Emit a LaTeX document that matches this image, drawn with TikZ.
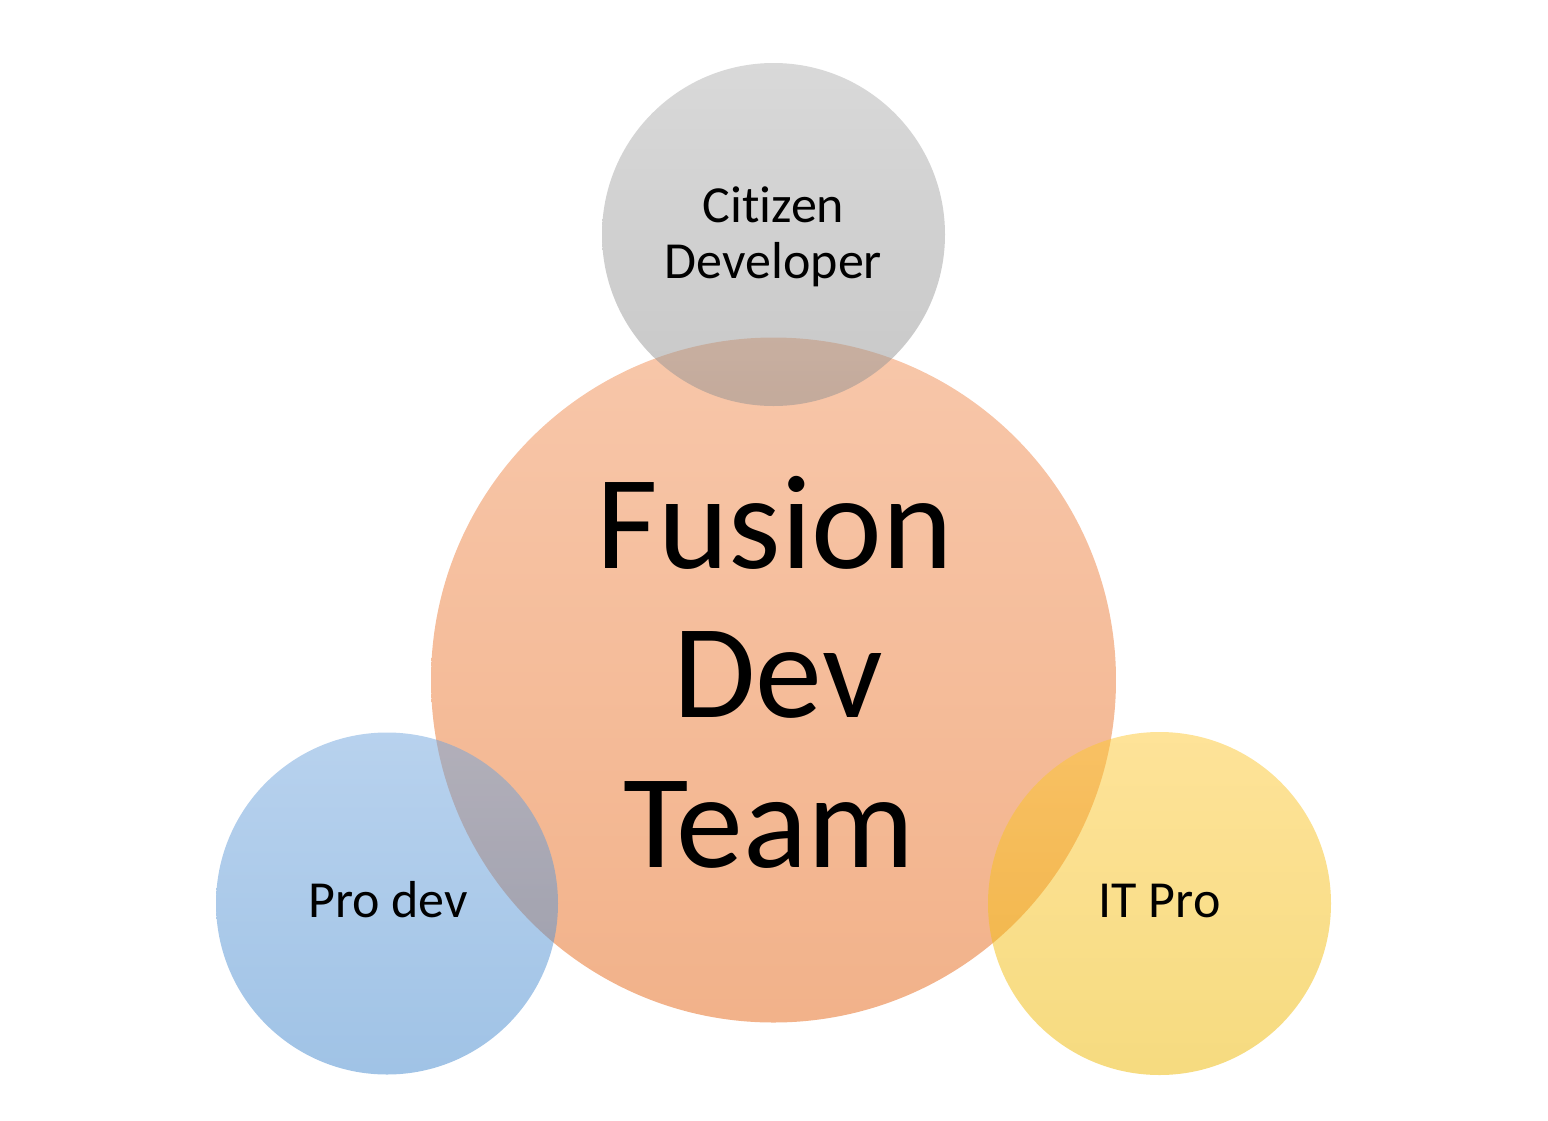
\documentclass[tikz,border=0pt]{standalone}
\usepackage{fontspec}
\setmainfont[Ligatures={NoCommon,NoRare}]{Carlito}
\definecolor{orTop}{RGB}{241,143,85}
\definecolor{orBot}{RGB}{229,101,21}
\definecolor{grTop}{RGB}{179,179,179}
\definecolor{grBot}{RGB}{145,145,145}
\definecolor{blTop}{RGB}{113,165,221}
\definecolor{blBot}{RGB}{65,135,205}
\definecolor{yeTop}{RGB}{253,199,50}
\definecolor{yeBot}{RGB}{237,183,0}
\tikzset{
  ball/.style={circle, inner sep=0pt, draw=none, fill opacity=0.5, shade, shading angle=0},
  bigtext/.style={anchor=base, inner sep=0pt, font=\fontsize{134}{150}\selectfont},
  smalltext/.style={anchor=base, inner sep=0pt, font=\fontsize{52}{56}\selectfont},
}
\begin{document}
\begin{tikzpicture}[x=1pt, y=-1pt]
\useasboundingbox (0,0) rectangle (1548,1120);
\node[ball, minimum size=685, top color=orTop, bottom color=orBot] (fusion) at (773.5,680) {};
\node[ball, minimum size=343, top color=grTop, bottom color=grBot] (citizen) at (773.5,234.5) {};
\node[ball, minimum size=342, top color=blTop, bottom color=blBot] (prodev) at (387,903.5) {};
\node[ball, minimum size=343, top color=yeTop, bottom color=yeBot] (itpro) at (1159.5,903.5) {};
\node[bigtext] (f1) at (775,568) {Fusion};
\node[bigtext] (f2) at (778,717) {Dev};
\node[bigtext] (f3) at (769,867) {Team};
\node[smalltext] (c1) at (773.5,222) {Citizen};
\node[smalltext] (c2) at (773.5,278) {Developer};
\node[smalltext] (p1) at (388,917) {Pro dev};
\node[smalltext] (i1) at (1159.5,917) {IT Pro};
\end{tikzpicture}
\end{document}
